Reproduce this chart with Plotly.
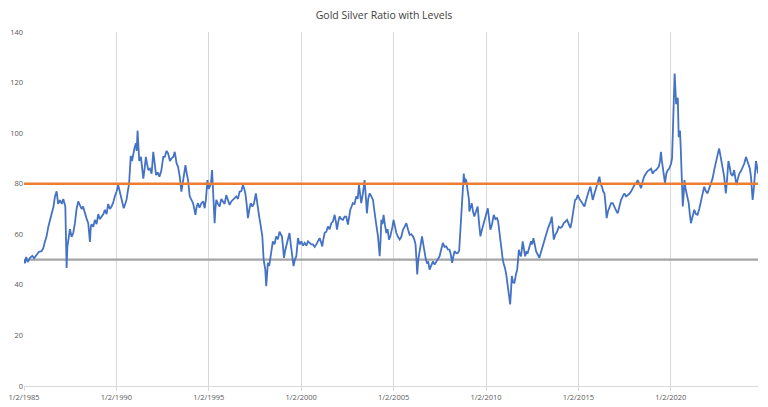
import pandas as pd
import plotly.graph_objects as go

# Time (decimal years) and gold/silver ratio readings
years = [1985.0,1985.05,1985.12,1985.2,1985.32,1985.45,1985.55,1985.68,1985.8,1985.95,1986.05,1986.13,1986.22,1986.32,1986.42,1986.5,1986.6,1986.68,1986.77,1986.85,1986.95,1987.05,1987.13,1987.24,1987.28,1987.31,1987.35,1987.4,1987.49,1987.58,1987.67,1987.76,1987.85,1987.94,1988.03,1988.12,1988.2,1988.3,1988.4,1988.48,1988.57,1988.62,1988.66,1988.75,1988.84,1988.93,1989.02,1989.1,1989.2,1989.3,1989.38,1989.47,1989.56,1989.65,1989.74,1989.83,1989.92,1990.02,1990.1,1990.18,1990.28,1990.4,1990.48,1990.55,1990.62,1990.69,1990.74,1990.78,1990.85,1990.91,1990.98,1991.06,1991.1,1991.15,1991.2,1991.24,1991.33,1991.4,1991.46,1991.53,1991.6,1991.66,1991.73,1991.82,1991.91,1992.0,1992.07,1992.15,1992.24,1992.33,1992.43,1992.54,1992.62,1992.72,1992.8,1992.9,1992.98,1993.08,1993.16,1993.26,1993.34,1993.43,1993.52,1993.61,1993.68,1993.74,1993.81,1993.88,1993.97,1994.05,1994.15,1994.22,1994.28,1994.35,1994.42,1994.5,1994.6,1994.7,1994.78,1994.85,1994.93,1995.0,1995.05,1995.12,1995.18,1995.25,1995.32,1995.36,1995.41,1995.5,1995.59,1995.68,1995.77,1995.86,1995.95,1996.04,1996.13,1996.22,1996.31,1996.4,1996.49,1996.58,1996.67,1996.76,1996.85,1996.92,1996.98,1997.05,1997.12,1997.2,1997.27,1997.36,1997.45,1997.55,1997.6,1997.66,1997.73,1997.79,1997.85,1997.9,1997.97,1998.02,1998.06,1998.11,1998.15,1998.2,1998.27,1998.35,1998.41,1998.47,1998.56,1998.65,1998.74,1998.83,1998.9,1998.96,1999.02,1999.07,1999.15,1999.25,1999.32,1999.37,1999.44,1999.5,1999.59,1999.66,1999.74,1999.83,1999.92,2000.01,2000.1,2000.19,2000.28,2000.37,2000.46,2000.55,2000.64,2000.73,2000.82,2000.91,2001.0,2001.07,2001.14,2001.2,2001.27,2001.36,2001.45,2001.54,2001.63,2001.72,2001.81,2001.88,2001.94,2002.01,2002.08,2002.17,2002.26,2002.35,2002.44,2002.53,2002.6,2002.66,2002.73,2002.8,2002.89,2002.98,2003.06,2003.13,2003.19,2003.25,2003.34,2003.43,2003.5,2003.56,2003.63,2003.71,2003.8,2003.89,2003.95,2004.01,2004.08,2004.16,2004.25,2004.3,2004.34,2004.4,2004.46,2004.53,2004.61,2004.68,2004.75,2004.82,2004.88,2004.94,2005.0,2005.08,2005.15,2005.24,2005.33,2005.42,2005.51,2005.6,2005.69,2005.78,2005.87,2005.96,2006.05,2006.12,2006.19,2006.24,2006.28,2006.34,2006.41,2006.48,2006.54,2006.61,2006.68,2006.75,2006.81,2006.88,2006.95,2007.04,2007.13,2007.22,2007.31,2007.4,2007.49,2007.58,2007.67,2007.76,2007.85,2007.94,2008.03,2008.1,2008.17,2008.23,2008.3,2008.4,2008.48,2008.55,2008.62,2008.68,2008.75,2008.8,2008.84,2008.87,2008.93,2009.01,2009.08,2009.1,2009.17,2009.23,2009.3,2009.37,2009.46,2009.55,2009.62,2009.7,2009.79,2009.88,2009.96,2010.04,2010.1,2010.17,2010.24,2010.33,2010.42,2010.51,2010.6,2010.66,2010.73,2010.82,2010.91,2010.97,2011.03,2011.1,2011.18,2011.25,2011.31,2011.36,2011.4,2011.47,2011.54,2011.62,2011.69,2011.74,2011.78,2011.84,2011.9,2011.99,2012.05,2012.12,2012.19,2012.26,2012.35,2012.44,2012.5,2012.57,2012.64,2012.71,2012.8,2012.89,2012.98,2013.07,2013.16,2013.25,2013.34,2013.43,2013.5,2013.56,2013.62,2013.67,2013.76,2013.85,2013.94,2014.03,2014.12,2014.21,2014.3,2014.39,2014.48,2014.57,2014.64,2014.7,2014.76,2014.82,2014.9,2014.97,2015.06,2015.15,2015.24,2015.33,2015.4,2015.47,2015.56,2015.65,2015.72,2015.78,2015.87,2015.96,2016.06,2016.14,2016.2,2016.28,2016.34,2016.41,2016.47,2016.53,2016.6,2016.68,2016.77,2016.86,2016.93,2017.0,2017.07,2017.13,2017.22,2017.31,2017.4,2017.49,2017.58,2017.67,2017.76,2017.85,2017.94,2018.03,2018.12,2018.21,2018.3,2018.39,2018.48,2018.57,2018.66,2018.75,2018.84,2018.93,2019.02,2019.11,2019.2,2019.28,2019.35,2019.42,2019.47,2019.52,2019.56,2019.63,2019.69,2019.76,2019.84,2019.92,2020.02,2020.07,2020.1,2020.13,2020.16,2020.21,2020.25,2020.29,2020.34,2020.38,2020.43,2020.5,2020.54,2020.57,2020.61,2020.65,2020.7,2020.74,2020.8,2020.86,2020.92,2020.97,2021.03,2021.09,2021.18,2021.27,2021.36,2021.45,2021.54,2021.63,2021.72,2021.81,2021.9,2021.99,2022.08,2022.17,2022.26,2022.35,2022.42,2022.48,2022.55,2022.62,2022.69,2022.76,2022.83,2022.89,2022.94,2022.98,2023.05,2023.12,2023.18,2023.25,2023.34,2023.43,2023.5,2023.56,2023.63,2023.71,2023.8,2023.89,2023.98,2024.07,2024.14,2024.21,2024.28,2024.34,2024.4,2024.43,2024.48,2024.52,2024.56,2024.61,2024.66,2024.72]

ratio = [50,48.5,51,49,50.6,51.5,50.5,52,53,53.3,54.5,57,59,63,66,68,71,75,77,72,73.5,72,74,71,60,46.7,55,58,62,59,60.5,64.4,70,73,71.5,70,71,68,66,64.4,57,63,64,63,65.7,64,68,66,67,68,69.7,68,72,70,71,72.5,75,77,79.5,77,73.6,70.3,72,73.6,77,80,86,91,89,92,94,96,93,101,94,89,90.6,86,82,86,90.6,88,85.4,86,84,92.6,88,83.4,84.5,82.8,85,90.6,90.6,93,92,89,90,90.6,92.6,88,86.7,82.8,76.9,81.4,84,87.3,84,81.4,75,74,72.3,70,67.7,71,72.3,70.5,72.3,73,70.3,74,81.4,78,78.8,80,85.4,76,64.4,70,73.6,72,71,74,73,72,75.5,73,71.6,73,73.6,74,75,74,76.9,77,79.5,78,76.2,72,66.4,70,72.3,71,72.3,76.2,73,70.3,67,64.4,62,59.2,50,47,46,39.5,45,48.7,47.5,51.3,55,57.2,56,59.2,58,61,60,59.2,55,50.7,54,57.2,59,60.5,56,52,47.4,50,51.3,58.5,56,57.2,55.5,56.6,55.5,57.2,56.5,56,56,55,56,57,58.5,57,55.2,58,60.5,61,63.1,62,64.4,65,67.7,65,61.8,65,67,66,65.7,67,67,63.8,67,69.7,71,72.3,72,75,74,79.5,76,72.3,76,81.4,75,68.3,74,76.2,75,73.6,70,65.7,63,59.2,51.3,58,65.7,64,67.7,64,60.5,62,57.9,59,60.5,63,65.7,62,60.5,59,57.9,59,61.8,63,64.4,62,59.8,60,59.2,58,56,50,44.1,50,53.3,56,59.2,56,52.6,50,48.7,49,46,48,49.3,48,49.3,50,51.3,54,56.6,55,55.2,54,53.9,52,48.7,51,53.3,52.5,52.6,53.5,61.8,66,76.2,84,80,82,81.4,76.2,73.6,69,71,72.3,69,67,69,71,65,59.2,62,64.4,66,68,70.3,66,61.8,64,67.7,66,66.4,65,60.5,55,50,48,46.7,44,39.5,35,32.3,38,43.5,41,40.8,44,46,50,53.9,52,51.3,57.2,54,51.3,53,52.6,55,57.2,56,58.5,56,53.3,52,50.7,53,55.2,58,60.5,62,63.8,65,67,62,57.9,60,61,63,62.5,63,64.4,65,65.7,64,62.5,65,67.7,70,73.6,74,75.5,74,73,72,71,73,75,77,78.8,76,73.6,76,78.2,80,82.8,80,78.8,77,76.2,72,66.4,69,71,72.3,72.3,71,70.3,69,68.3,71,73.6,75,76.2,75,75.5,76,76.9,78,79.5,80,81.4,80,78.2,81,83,84,85,85.4,86,84,85,85.4,86,86.7,89,92.6,89,86.7,84,80.1,84,85.4,86,88,90,95.9,104,115.5,123.6,118,111.5,112,114,98.4,101,94,85.4,78,71,76,81.4,78,76.2,75,72.3,68,64.4,67,69.7,68,67.7,70,73.6,76,78.8,77,76.2,78,79.5,82,85.4,88,90.6,92,93.9,91,88,85,82.8,79,76.2,82,89,87,84,83,85.4,82,79.5,82,84,85,86.7,88,90.6,89,88,86,82.8,78,73.6,77,80.1,85,89,87,84]

levels = [80, 50]
level_colors = ["#ED7D31", "#A5A5A5"]
tick_years = [1985, 1990, 1995, 2000, 2005, 2010, 2015, 2020]
y_ticks = [0, 20, 40, 60, 80, 100, 120, 140]
title = "Gold Silver Ratio with Levels"


def to_date(y):
    yr = int(y)
    start = pd.Timestamp(year=yr, month=1, day=1)
    end = pd.Timestamp(year=yr + 1, month=1, day=1)
    return start + (end - start) * (y - yr)


dates = [to_date(y) for y in years]
tick_vals = [pd.Timestamp(year=y, month=1, day=2) for y in tick_years]
tick_text = [f"1/2/{y}" for y in tick_years]
x_start = tick_vals[0]
x_end = dates[-1]

fig = go.Figure()
fig.add_trace(go.Scatter(x=[x_start, x_end], y=[levels[1], levels[1]], mode="lines",
                         line=dict(color=level_colors[1], width=2.2), showlegend=False,
                         hoverinfo="skip"))
fig.add_trace(go.Scatter(x=dates, y=ratio, mode="lines",
                         line=dict(color="#4472C4", width=1.8), showlegend=False))
fig.add_trace(go.Scatter(x=[x_start, x_end], y=[levels[0], levels[0]], mode="lines",
                         line=dict(color=level_colors[0], width=2.4), showlegend=False,
                         hoverinfo="skip"))

fig.update_layout(
    width=768, height=407,
    margin=dict(l=24, r=10, t=32, b=21, autoexpand=False),
    paper_bgcolor="white", plot_bgcolor="white",
    title=dict(text=title, x=0.5, xanchor="center", y=0.963, yanchor="middle",
               font=dict(family="Open Sans, Lato, sans-serif", size=10.5, color="#404040")),
    font=dict(family="Open Sans, Lato, sans-serif", size=7.5, color="#595959"),
)
fig.update_xaxes(
    type="date", range=[x_start, x_end], automargin=False,
    tickmode="array", tickvals=tick_vals, ticktext=tick_text,
    showgrid=True, gridcolor="#D9D9D9", gridwidth=1,
    showline=True, linecolor="#D9D9D9", linewidth=1,
    ticks="outside", ticklen=4, tickcolor="#D9D9D9",
    tickfont=dict(size=7.5, color="#595959"), zeroline=False,
)
fig.update_yaxes(
    range=[0, 140], tickmode="array", tickvals=y_ticks, automargin=False,
    showgrid=False, showline=False, zeroline=False,
    ticks="", tickfont=dict(size=7.5, color="#595959"),
)

fig.write_html("out.html")
